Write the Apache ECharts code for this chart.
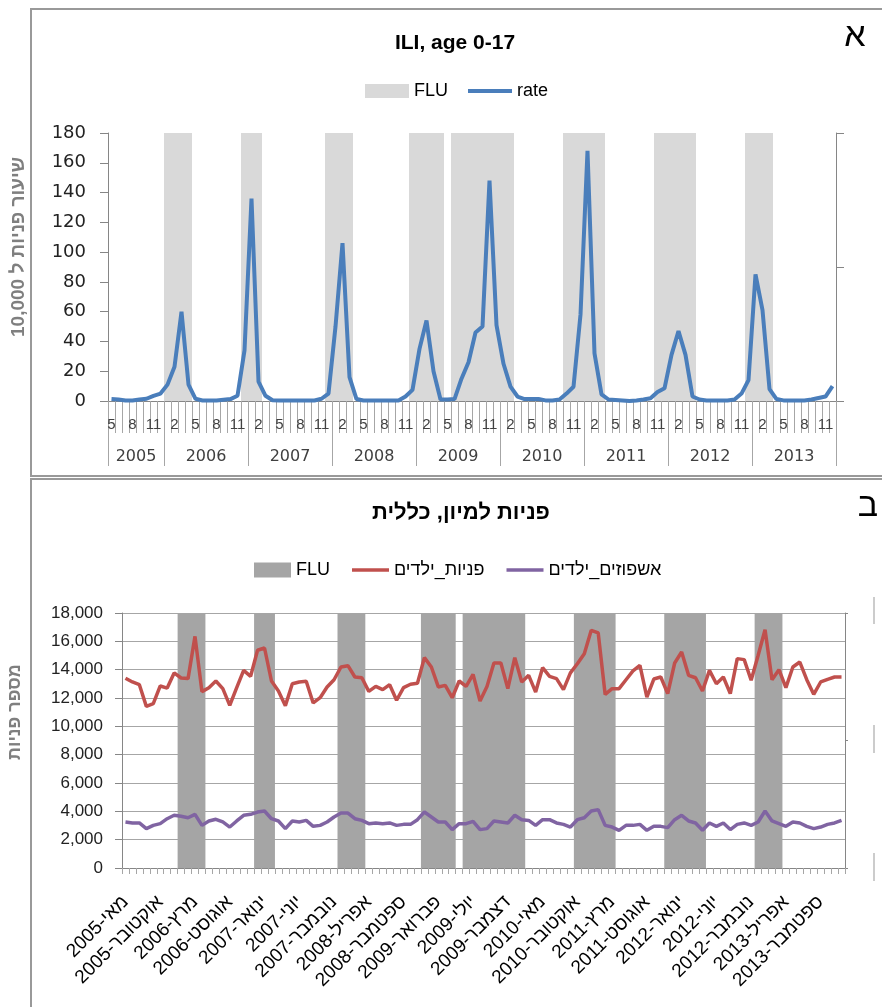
<!DOCTYPE html>
<html><head><meta charset="utf-8">
<script src="https://cdn.jsdelivr.net/npm/echarts@6/dist/echarts.min.js"></script>
<style>html,body{margin:0;padding:0;background:#fff}#c{width:882px;height:1007px}</style>
</head><body><div id="c"></div>
<script>
// ---------- data ----------
const years = [2005, 2006, 2007, 2008, 2009, 2010, 2011, 2012, 2013];
const firstMonth = 5; // May 2005
const heMonths = ['ינואר','פברואר','מרץ','אפריל','מאי','יוני','יולי','אוגוסט','ספטמבר','אוקטובר','נובמבר','דצמבר'];

// FLU season flag per month (May 2005 .. Dec 2013)
const fluFlag = [
  0,0,0,0,0,0,0,0,             // 2005 May-Dec
  1,1,1,1,0,0,0,0,0,0,0,1,     // 2006
  1,1,0,0,0,0,0,0,0,0,0,1,     // 2007
  1,1,1,0,0,0,0,0,0,0,0,1,     // 2008
  1,1,1,1,0,1,1,1,1,1,1,1,     // 2009
  1,1,0,0,0,0,0,0,0,1,1,1,     // 2010
  1,1,1,0,0,0,0,0,0,0,1,1,     // 2011
  1,1,1,1,0,0,0,0,0,0,0,1,     // 2012
  1,1,1,0,0,0,0,0,0,0,0,0      // 2013
];

// ILI rate per 10,000, age 0-17
const rate = [
  1.3, 1, 0.3, 0.3, 1, 1.5, 3.5, 5,
  11, 23, 60, 11, 1.5, 0.3, 0.3, 0.3, 0.8, 1.3, 3.5, 34,
  136, 13, 3.5, 0.5, 0.3, 0.3, 0.3, 0.3, 0.3, 0.3, 1.5, 5,
  50, 106, 16, 1.3, 0.3, 0.3, 0.3, 0.3, 0.3, 0.3, 3, 7.5,
  35, 54, 20, 1, 1, 1.3, 15, 26, 46, 50, 148, 51,
  25, 9.6, 3, 1.3, 1.3, 1.3, 0.4, 0.4, 1, 5, 9.6, 58,
  168, 32, 4.5, 1, 0.7, 0.4, 0, 0.4, 1, 1.8, 6, 8.5,
  31, 47, 31, 3, 1, 0.4, 0.4, 0.4, 0.4, 1, 5, 14,
  85, 61, 8, 1.3, 0.4, 0.4, 0.4, 0.4, 1, 2, 3, 10
];

// ER visits, children
const visits = [
  13400, 13130, 12940, 11410, 11600, 12850, 12700, 13770,
  13410, 13370, 16350, 12450, 12730, 13200, 12660, 11480, 12730, 13950, 13530, 15370,
  15530, 13200, 12500, 11460, 13010, 13130, 13180, 11650, 12020, 12780, 13290, 14190,
  14280, 13480, 13430, 12470, 12820, 12590, 12940, 11840, 12730, 12970, 13040, 14850,
  14190, 12780, 12890, 12020, 13200, 12820, 13670, 11790, 12820, 14470, 14470, 12660,
  14850, 13130, 13600, 12420, 14140, 13530, 13370, 12590, 13770, 14420, 15130, 16780,
  16590, 12250, 12660, 12660, 13290, 13910, 14310, 12070, 13340, 13480, 12310, 14470,
  15250, 13600, 13430, 12490, 13950, 13010, 13480, 12310, 14780, 14710, 13250, 15000,
  16820, 13290, 14000, 12730, 14190, 14540, 13290, 12260, 13130, 13320, 13480, 13480
];

// hospitalizations, children
const admissions = [
  3250, 3180, 3180, 2780, 3010, 3130, 3480, 3720,
  3650, 3550, 3790, 3010, 3320, 3440, 3250, 2890, 3320, 3720, 3790, 3950,
  4020, 3480, 3320, 2780, 3320, 3250, 3360, 2940, 3010, 3250, 3600, 3880,
  3880, 3480, 3360, 3130, 3180, 3130, 3180, 3010, 3080, 3080, 3410, 3950,
  3600, 3250, 3250, 2710, 3130, 3130, 3290, 2710, 2780, 3320, 3250, 3180,
  3720, 3410, 3360, 3010, 3410, 3410, 3180, 3080, 2890, 3410, 3550, 4020,
  4120, 3010, 2890, 2660, 3010, 3010, 3080, 2660, 2940, 2940, 2850, 3410,
  3720, 3320, 3180, 2660, 3180, 2940, 3180, 2710, 3080, 3180, 3010, 3250,
  4020, 3320, 3130, 2940, 3250, 3180, 2940, 2780, 2890, 3080, 3180, 3360
];

// ---------- categories ----------
const monthNum = [], yearOf = [], heLabels = [];
years.forEach(function (y) {
  for (let m = (y === years[0] ? firstMonth : 1); m <= 12; m++) {
    monthNum.push(String(m));
    yearOf.push(y);
    heLabels.push(heMonths[m - 1] + '-' + y);
  }
});
// index where each year label sits (middle of the year's months)
const yearLabelIdx = {};
years.forEach(function (y) {
  const s = yearOf.indexOf(y), e = yearOf.lastIndexOf(y);
  yearLabelIdx[Math.floor((s + e) / 2)] = y;
});

const FF = "'Liberation Sans', Arial, sans-serif";
const AX = '#868686';
const TK = '#a6a6a6';
const LINE_ICON = 'path://M0,0H40V3.6H0Z';
const FLU_TOP = '#d9d9d9';
const FLU_BOT = '#a5a5a5';

// FLU season bands: stepped filled area on a 0..1 secondary axis (seamless columns)
function fluSeries(name, xi, yi, color) {
  return {
    name: name, type: 'line', xAxisIndex: xi, yAxisIndex: yi, data: fluFlag,
    step: 'middle', symbol: 'none', color: color,
    lineStyle: {width: 0, color: color},
    areaStyle: {color: color, opacity: 1},
    itemStyle: {color: color},
    z: 1, silent: true
  };
}

const chart = echarts.init(document.getElementById('c'), null, {renderer: 'canvas'});
chart.setOption({
  backgroundColor: '#fff',
  animation: false,
  textStyle: {fontFamily: FF},
  grid: [
    {left: 108, top: 133, width: 728, height: 268},
    {left: 122, top: 613, width: 723, height: 255}
  ],
  legend: [
    {
      left: 365, top: 82, padding: 0, itemWidth: 44, itemHeight: 14, itemGap: 20,
      textStyle: {fontSize: 18, color: '#000', fontFamily: FF},
      data: [{name: 'FLU', icon: 'rect', itemStyle: {color: FLU_TOP, borderWidth: 0}}, {name: 'rate', icon: LINE_ICON}]
    },
    {
      left: 254, top: 561, padding: 0, itemWidth: 37, itemHeight: 15, itemGap: 22,
      textStyle: {fontSize: 18, color: '#000', fontFamily: FF},
      formatter: function (n) { return n === 'FLU2' ? 'FLU' : n; },
      data: [{name: 'FLU2', icon: 'rect', itemStyle: {color: FLU_BOT, borderWidth: 0}}, {name: 'פניות_ילדים', icon: LINE_ICON}, {name: 'אשפוזים_ילדים', icon: LINE_ICON}]
    }
  ],
  xAxis: [
    {
      gridIndex: 0, type: 'category', data: monthNum, position: 'bottom',
      axisLine: {show: true, lineStyle: {color: AX}},
      axisTick: {show: true, interval: 0, length: 32, lineStyle: {color: TK}},
      axisLabel: {show: true, interval: 2, margin: 16, fontSize: 15, color: '#404040', fontFamily: FF},
      splitLine: {show: false}
    },
    {
      gridIndex: 0, type: 'category', data: monthNum, position: 'bottom',
      axisLine: {show: false},
      axisTick: {
        show: true, length: 65, lineStyle: {color: TK},
        interval: function (i) { return i === 0 || monthNum[i] === '1'; }
      },
      axisLabel: {
        show: true,
        interval: function (i) { return yearLabelIdx[i] !== undefined; },
        formatter: function (v, i) { return String(yearLabelIdx[i] !== undefined ? yearLabelIdx[i] : ''); },
        margin: 48, padding: [0, 0, 0, 7], fontSize: 16, color: '#404040',
        fontFamily: "'DejaVu Sans', sans-serif"
      },
      splitLine: {show: false}
    },
    {
      gridIndex: 1, type: 'category', data: heLabels, position: 'bottom',
      axisLine: {show: true, lineStyle: {color: AX}},
      axisTick: {show: true, interval: 0, length: 6, lineStyle: {color: TK}},
      axisLabel: {show: true, interval: 4, rotate: 45, margin: 31, fontSize: 19, color: '#000', fontFamily: FF},
      splitLine: {show: false}
    }
  ],
  yAxis: [
    {
      gridIndex: 0, type: 'value', min: 0, max: 180, interval: 20,
      axisLine: {show: true, lineStyle: {color: AX}},
      axisTick: {show: true, length: 8, lineStyle: {color: AX}},
      axisLabel: {margin: 22, fontSize: 18, color: '#222', fontFamily: "'DejaVu Sans', sans-serif"},
      splitLine: {show: false}
    },
    {
      gridIndex: 0, type: 'value', min: 0, max: 1, interval: 0.5, position: 'right',
      axisLine: {show: true, lineStyle: {color: AX}},
      axisTick: {show: true, length: 8, lineStyle: {color: AX}},
      axisLabel: {show: false},
      splitLine: {show: false}
    },
    {
      gridIndex: 1, type: 'value', min: 0, max: 18000, interval: 2000,
      axisLine: {show: true, lineStyle: {color: AX}},
      axisTick: {show: true, length: 7, lineStyle: {color: AX}},
      axisLabel: {
        margin: 19, fontSize: 17, color: '#222', fontFamily: FF,
        formatter: function (v) { return String(v).replace(/\B(?=(\d{3})+(?!\d))/g, ','); }
      },
      splitLine: {show: true, lineStyle: {color: '#a6a6a6', width: 1}}
    },
    {
      gridIndex: 1, type: 'value', min: 0, max: 1, interval: 0.5, position: 'right',
      axisLine: {show: true, lineStyle: {color: AX}},
      axisTick: {show: true, length: 3, lineStyle: {color: AX}},
      axisLabel: {show: false},
      splitLine: {show: false}
    }
  ],
  series: [
    fluSeries('FLU', 0, 1, FLU_TOP),
    {
      name: 'rate', type: 'line', xAxisIndex: 0, yAxisIndex: 0, data: rate,
      symbol: 'none', color: '#4a7ebb', lineStyle: {width: 4, color: '#4a7ebb'}, z: 3
    },
    fluSeries('FLU2', 2, 3, FLU_BOT),
    {
      name: 'פניות_ילדים', type: 'line', xAxisIndex: 2, yAxisIndex: 2, data: visits,
      symbol: 'none', color: '#c0504d', lineStyle: {width: 3.5, color: '#c0504d'}, z: 3
    },
    {
      name: 'אשפוזים_ילדים', type: 'line', xAxisIndex: 2, yAxisIndex: 2, data: admissions,
      symbol: 'none', color: '#8064a2', lineStyle: {width: 3.5, color: '#8064a2'}, z: 3
    }
  ],
  graphic: [
    {type: 'polyline', shape: {points: [[882, 9], [31, 9], [31, 476], [882, 476]]},
     style: {stroke: '#999', lineWidth: 2, fill: null}, silent: true},
    {type: 'polyline', shape: {points: [[882, 479], [31, 479], [31, 1007]]},
     style: {stroke: '#999', lineWidth: 2, fill: null}, silent: true},
    {type: 'line', shape: {x1: 874, y1: 597, x2: 874, y2: 624}, style: {stroke: '#bbb', lineWidth: 1.5}, silent: true},
    {type: 'line', shape: {x1: 874, y1: 725, x2: 874, y2: 753}, style: {stroke: '#bbb', lineWidth: 1.5}, silent: true},
    {type: 'line', shape: {x1: 874, y1: 853, x2: 874, y2: 881}, style: {stroke: '#bbb', lineWidth: 1.5}, silent: true},
    {type: 'text', x: 455, y: 43, style: {text: 'ILI, age 0-17', fontSize: 21, fontWeight: 'bold', fontFamily: FF, fill: '#000', align: 'center', verticalAlign: 'middle', textAlign: 'center', textVerticalAlign: 'middle'}},
    {type: 'text', x: 855, y: 37, style: {text: 'א', fontSize: 34, fontFamily: FF, fill: '#000', align: 'center', verticalAlign: 'middle', textAlign: 'center', textVerticalAlign: 'middle'}},
    {type: 'text', x: 461, y: 513, style: {text: 'פניות למיון, כללית', fontSize: 22, fontWeight: 'bold', fontFamily: FF, fill: '#000', align: 'center', verticalAlign: 'middle', textAlign: 'center', textVerticalAlign: 'middle'}},
    {type: 'text', x: 868, y: 507, style: {text: 'ב', fontSize: 34, fontFamily: FF, fill: '#000', align: 'center', verticalAlign: 'middle', textAlign: 'center', textVerticalAlign: 'middle'}},
    {type: 'text', x: 19, y: 247, rotation: Math.PI / 2, style: {text: 'שיעור פניות ל 10,000', fontSize: 19, fontWeight: 'bold', fontFamily: FF, fill: '#7f7f7f', align: 'center', verticalAlign: 'middle', textAlign: 'center', textVerticalAlign: 'middle'}},
    {type: 'text', x: 15, y: 712, rotation: Math.PI / 2, style: {text: 'מספר פניות', fontSize: 18, fontWeight: 'bold', fontFamily: FF, fill: '#7f7f7f', align: 'center', verticalAlign: 'middle', textAlign: 'center', textVerticalAlign: 'middle'}}
  ]
});
</script>
</body></html>
